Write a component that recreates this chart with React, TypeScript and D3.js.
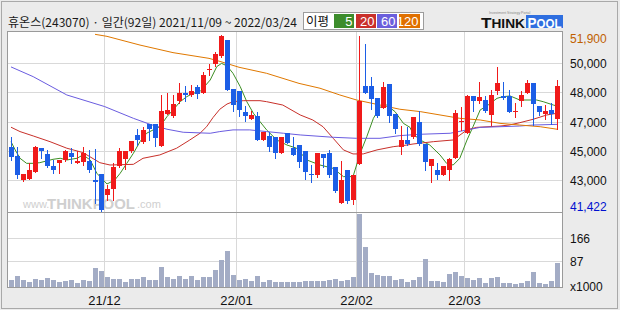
import React from "react";
import * as d3 from "d3";

// ---------- DATA ----------
const stockName = "휴온스(243070)";
const tradingDays = [
  "2021-11-09","2021-11-10","2021-11-11","2021-11-12","2021-11-15","2021-11-16","2021-11-17","2021-11-18","2021-11-19","2021-11-22",
  "2021-11-23","2021-11-24","2021-11-25","2021-11-26","2021-11-29","2021-11-30","2021-12-01","2021-12-02","2021-12-03","2021-12-06",
  "2021-12-07","2021-12-08","2021-12-09","2021-12-10","2021-12-13","2021-12-14","2021-12-15","2021-12-16","2021-12-17","2021-12-20",
  "2021-12-21","2021-12-22","2021-12-23","2021-12-24","2021-12-27","2021-12-28","2021-12-29","2021-12-30","2022-01-03","2022-01-04",
  "2022-01-05","2022-01-06","2022-01-07","2022-01-10","2022-01-11","2022-01-12","2022-01-13","2022-01-14","2022-01-17","2022-01-18",
  "2022-01-19","2022-01-20","2022-01-21","2022-01-24","2022-01-25","2022-01-26","2022-01-27","2022-01-28","2022-02-03","2022-02-04",
  "2022-02-07","2022-02-08","2022-02-09","2022-02-10","2022-02-11","2022-02-14","2022-02-15","2022-02-16","2022-02-17","2022-02-18",
  "2022-02-21","2022-02-22","2022-02-23","2022-02-24","2022-02-25","2022-02-28","2022-03-02","2022-03-03","2022-03-04","2022-03-07",
  "2022-03-08","2022-03-10","2022-03-11","2022-03-14","2022-03-15","2022-03-16","2022-03-17","2022-03-18","2022-03-21","2022-03-22",
  "2022-03-23","2022-03-24"
];

const openPrices = [
  45250,44700,43250,43350,43750,45200,44800,44100,44250,44450,
  44900,44300,44350,44400,43250,43600,42350,42750,44100,44500,
  45000,45950,45550,46600,46600,45300,47200,47050,47950,48450,
  48300,48800,48450,49800,50150,50650,51600,48700,48550,47300,
  46900,47100,45650,45900,45850,44900,46050,45200,45350,45000,
  43600,43550,44800,44900,44050,41900,43850,42050,44200,48850,
  48850,48150,47550,49000,47200,45250,45650,45800,46700,45400,
  44100,43850,43550,43850,44550,46700,46050,48250,48000,48050,
  47150,48550,48250,48250,47300,47950,48450,49050,47650,47200,
  47450,46900
];
const highPrices = [
  45800,45250,43650,44250,45300,45200,45050,44450,44450,45050,
  45150,45000,45250,45050,45100,43600,42950,44250,45150,45000,
  45600,46300,46450,46600,46600,48350,48450,48350,49050,48850,
  48900,48900,49700,50200,50900,51900,51600,48700,48550,47650,
  47350,47300,46100,46100,45850,45850,46050,45850,45350,45000,
  44150,44900,44800,45050,44050,44400,43850,43550,51850,51350,
  49400,48150,49100,49000,47200,46500,46400,47000,47350,45400,
  44500,44250,44100,44550,47450,47600,48350,48250,49100,48250,
  48600,50000,49100,48650,47850,48550,49250,49050,47650,47750,
  47850,49200
];
const lowPrices = [
  44450,43400,43200,43300,43750,44550,44050,43700,43700,44400,
  44250,44250,44150,43750,41900,41422,42100,42100,44050,43950,
  44950,45350,45500,45650,45300,45300,47200,47000,47850,47950,
  48250,48150,48450,49500,50050,50600,48600,47350,47100,46800,
  46900,45650,45650,45000,44600,44900,45450,44750,44050,43350,
  43150,43450,44050,43450,42550,41900,41900,41850,44200,48450,
  47500,47000,47550,46750,46050,44800,45350,45750,45350,43850,
  43150,43350,43550,43250,44550,46250,46050,47350,47850,47300,
  46550,48400,48100,47300,47000,47650,48450,46550,47150,46900,
  46600,46300
];
const closePrices = [
  44650,43550,43650,43850,45250,45000,44100,43850,44450,45000,
  44650,44400,44900,43850,43150,41500,42750,44050,45000,45000,
  45600,45650,46250,46300,45750,47350,47450,47800,48450,48300,
  48550,48400,49500,49850,50750,51850,48600,47750,47450,47050,
  47150,45650,46100,45250,44900,45850,45500,44750,44350,43750,
  43550,44900,44550,43550,42600,43250,42000,43550,47950,48450,
  48100,47050,48800,47100,46300,45650,45400,47000,45400,44350,
  44500,43550,44100,44500,47250,46800,48250,47950,48200,47350,
  48350,49050,48150,47300,47350,48350,49050,47800,47300,47400,
  47200,48850
];
// volume in thousands of shares
const volumes = [
  25.6,39,25.6,19,28,25.6,32,25.6,20,23,
  25.6,15.6,25.6,23,65.6,55.6,35.6,28,29,19,
  26.7,29,35.6,25.6,25.6,69,35.6,29,39,29,
  39,25.6,35.6,35.6,59,92,122,42,25.6,29,
  22,39,19,25.6,19,19,19,19,19,21,
  22,22,22,25.6,29,23,25.6,35.6,245,135.6,
  49,42,39,39,25.6,29,19,25.6,35.6,95.6,
  22,22,19,45.6,52,39,32,25.6,32,15.6,
  32,35.6,15.6,15.6,12,15.6,22,52,15.6,12,
  22,82
];

// moving averages: [day index, price]
const ma5Points: [number, number][] = [
  [0,45550],[0.7,45060],[1.5,44560],[2.6,44260],[3.7,44260],[4.8,44300],[7,44500],[8.2,44560],[9.3,44460],[11,44560],
  [12,44760],[13.2,44460],[14.3,43670],[16,43030],[17.3,43270],[18.2,43670],[19.3,44260],[20.4,44860],[21.5,45550],[22.6,46050],
  [23.7,46250],[24.8,46440],[26,47040],[27,47440],[28.2,47930],[29.3,48230],[30.4,48430],[31.5,48530],[33.2,49220],[34.3,50020],
  [35.1,50210],[36,50060],[37,49620],[38.2,48830],[39.3,47930],[40.4,47240],[41.5,46740],[42.6,46250],[44.3,45650],[46,45350],
  [47.6,45160],[49.3,44460],[51.5,44160],[53.7,43960],[55.4,43470],[57,43470],[58.2,44860],[59.3,45850],[60.4,46940],[61.5,47600],
  [62.6,47730],[64,47340],[65.4,46640],[66.5,46400],[67,46010],[68.2,45650],[69.8,45350],[71.5,44760],[72.6,44260],[73.7,44160],
  [74.8,44560],[76,45650],[77,46440],[78.2,47440],[79.3,47670],[81,48130],[82,48230],[83.2,48270],[84.8,48030],[86.5,48030],
  [87.6,48030],[88.7,47930],[90.4,47730],[91,47670]
];
const ma20Points: [number, number][] = [
  [0,46410],[1.5,46150],[3.7,45890],[6.5,45550],[9.3,45160],[12,44900],[14.8,44300],[16.5,44160],[20.4,44200],[22,44560],
  [24.8,44760],[27.6,45160],[29.8,45650],[31.5,46050],[32.6,46440],[33.7,47000],[34.8,47480],[36,47790],[37,47930],[38.7,47990],
  [41.5,47990],[42.6,47930],[45.3,47730],[48.2,47140],[50.3,46840],[52,46440],[53.7,45750],[55.4,45060],[57,44820],[58.7,44820],
  [61,45060],[63.7,45250],[66,45350],[67,45410],[70.4,45550],[73.7,45650],[76,46250],[77.6,46400],[81.5,46480],[83,46540],
  [84.8,46680],[87,46880],[89.3,47140],[91,47240]
];
const ma60Points: [number, number][] = [
  [0,50000],[3.7,49420],[9.3,48330],[15.6,47640],[20.4,46940],[23.2,46580],[26,46290],[28.7,46110],[33.2,46050],[34.8,46150],
  [37,46250],[39.8,46250],[42.6,46150],[45.4,46050],[48.2,45950],[53.7,45810],[57.6,45750],[61.5,45750],[64.8,45910],[68.2,45990],
  [73.2,46050],[76,46250],[78.2,46400],[81.5,46440],[84.8,46480],[87,46540],[91,46580]
];
const ma120Points: [number, number][] = [
  [14,51940],[16,51820],[21.5,51300],[27,50850],[33,50510],[35,50310],[38,49980],[42.6,49620],[48,49020],[51.5,48730],
  [54.8,48330],[57.6,48030],[61.5,47730],[64.8,47480],[68.2,47340],[71.5,47140],[74.8,46940],[78.2,46840],[81.5,46640],[84.8,46540],
  [88.2,46440],[91,46290]
];

const maLegendLabels = ["5", "20", "60", "120"];
const priceMax = 51900;
const priceMin = 41422;
const priceGridValues = [50230, 48490, 46750, 45000, 43270];
const volumeGridValues = [166, 87];
const monthStarts = ["2021-12-01", "2022-01-03", "2022-02-03", "2022-03-02"];
const monthLabels = ["21/12", "22/01", "22/02", "22/03"];

// ---------- STYLE ----------
const UP = "#f01a1a";
const DOWN = "#1c5ee6";
const MA_COLORS = ["#3d8f24", "#c8302a", "#6a5ce0", "#e07800"];
const LEGEND_COLORS = ["#3c8c2c", "#c9302b", "#6b5fdc", "#e07000"];
const GRID = "#d9d9d9";
const FRAME = "#9a9a9a";
const VOL = "#a3acc5";
const AXF = "'Liberation Sans', Arial, sans-serif";
const KRF = "'Noto Sans CJK KR', 'Noto Sans', sans-serif";

export default function App() {
  const W = 620, H = 310;
  const plotL = 7.5, plotR = 562.5, plotT = 31.5, sepY = 212.5, plotB = 287.5;
  const n = tradingDays.length;

  const x = d3.scaleLinear().domain([0, n - 1]).range([11, 557]);
  const yP = d3.scaleLinear().domain([priceMin, priceMax]).range([211, 35]);
  const yV = d3.scaleLinear().domain([0, 250]).range([plotB, 212.5]);
  const fmt = d3.format(",");

  const line = d3.line<[number, number]>().x(d => x(d[0])).y(d => yP(d[1]));
  const maSeries = [ma5Points, ma20Points, ma60Points, ma120Points];

  const fmtDate = (s: string) => s.replace(/-/g, "/");
  const header = `${stockName} · 일간(${n}일) ${fmtDate(tradingDays[0])} ~ ${fmtDate(tradingDays[n - 1])}`;

  const legendX = [334, 356, 377, 399];
  const legendW = [20, 20, 20, 21];

  return (
    <svg width={W} height={H} style={{ position: "absolute", left: 0, top: 0, display: "block" }}
      xmlns="http://www.w3.org/2000/svg">
      <defs>
        <clipPath id="pclip">
          <rect x={plotL + 0.5} y={plotT + 0.5} width={plotR - plotL - 1} height={sepY - plotT - 1} />
        </clipPath>
      </defs>
      <rect x={0} y={0} width={W} height={H} fill="#ebebeb" />
      <rect x={1.5} y={1.5} width={616} height={307} fill="none" stroke="#a9a9a9" shapeRendering="crispEdges" />

      {/* header */}
      <text x={8} y={27} fontSize={12} fontFamily={KRF} fill="#1a1a1a" textLength={289} lengthAdjust="spacingAndGlyphs">{header}</text>

      {/* legend */}
      <rect x={303.5} y={12.5} width={120} height={17} fill="#fff" stroke="#9c9c9c" shapeRendering="crispEdges" />
      <text x={306} y={26} fontSize={12.5} fontFamily={KRF} fill="#111">이평</text>
      {maLegendLabels.map((lab, k) => (
        <g key={lab}>
          <rect x={legendX[k]} y={14} width={legendW[k]} height={14} fill={LEGEND_COLORS[k]} />
          <text x={legendX[k] + legendW[k] - 1.5} y={26} fontSize={13} fontFamily={AXF} fill="#fff" textAnchor="end">{lab}</text>
        </g>
      ))}

      {/* logo */}
      <text x={489} y={13.5} fontSize={3.5} fontFamily={AXF} fill="#888">Investment Strategy Portal</text>
      <text x={481} y={28} fontSize={15} fontWeight={900} fontFamily={AXF} fill="#111" textLength={44} lengthAdjust="spacingAndGlyphs">T<tspan fontSize={12}>HINK</tspan></text>
      <rect x={526} y={15} width={37} height={13} fill="#2f6fe0" />
      <text x={544.5} y={27.5} fontSize={14} fontWeight={900} fontFamily={AXF} fill="#fff" textAnchor="middle" textLength={34} lengthAdjust="spacingAndGlyphs">P<tspan fontSize={12}>OOL</tspan></text>

      {/* plot background */}
      <rect x={plotL} y={plotT} width={plotR - plotL} height={plotB - plotT} fill="#fff" />

      {/* grid */}
      <g shapeRendering="crispEdges" stroke={GRID} strokeWidth={1}>
        {priceGridValues.map(v => {
          const yy = Math.round(yP(v)) + 0.5;
          return <line key={v} x1={plotL} x2={plotR} y1={yy} y2={yy} />;
        })}
        {volumeGridValues.map(v => {
          const yy = Math.round(yV(v)) + 0.5;
          return <line key={v} x1={plotL} x2={plotR} y1={yy} y2={yy} />;
        })}
        {monthStarts.map(d => {
          const xx = Math.round(x(tradingDays.indexOf(d)) - 3) + 0.5;
          return <line key={d} x1={xx} x2={xx} y1={plotT} y2={plotB} />;
        })}
      </g>

      {/* watermark */}
      <g fill="#c4c4c4" opacity={0.8}>
        <text x={23} y={208} fontSize={11} fontFamily={AXF}>www.</text>
        <text x={47} y={209} fontSize={15} fontWeight={900} fontFamily={AXF} textLength={88} lengthAdjust="spacingAndGlyphs">THINKPOOL</text>
        <text x={137} y={208} fontSize={11} fontFamily={AXF}>.com</text>
      </g>

      {/* moving averages */}
      <g clipPath="url(#pclip)">
        {maSeries.map((pts, k) => (
          <path key={k} d={line(pts) || ""} fill="none" stroke={MA_COLORS[k]} strokeWidth={1} />
        ))}
      </g>

      {/* candles */}
      <g shapeRendering="crispEdges" clipPath="url(#pclip)">
        {tradingDays.map((d, i) => {
          const o = openPrices[i], c = closePrices[i], h = highPrices[i], l = lowPrices[i];
          const up = c >= o;
          const col = up ? UP : DOWN;
          const cx = Math.round(x(i));
          const yTop = Math.round(yP(Math.max(o, c)));
          const yBot = Math.round(yP(Math.min(o, c)));
          const yh = Math.round(yP(h));
          const yl = Math.round(yP(l));
          return (
            <g key={d}>
              <rect x={cx} y={yh} width={1} height={Math.max(1, yl - yh + 1)} fill={col} />
              <rect x={cx - 2} y={yTop} width={5} height={Math.max(1, yBot - yTop)} fill={col} />
            </g>
          );
        })}
      </g>

      {/* volume */}
      <g shapeRendering="crispEdges">
        {volumes.map((v, i) => {
          const cx = Math.round(x(i));
          const yy = Math.round(yV(v));
          return <rect key={i} x={cx - 2} y={yy} width={5} height={Math.max(0, 287 - yy)} fill={VOL} />;
        })}
      </g>

      {/* frame */}
      <g shapeRendering="crispEdges" fill="none" stroke={FRAME}>
        <rect x={plotL} y={plotT} width={plotR - plotL} height={plotB - plotT} />
        <line x1={plotL} x2={plotR} y1={sepY} y2={sepY} />
      </g>

      {/* right axis labels */}
      <g fontFamily={AXF} fontSize={12}>
        <text x={570} y={Math.round(yP(priceMax)) + 8} fill="#c06000">{fmt(priceMax)}</text>
        {priceGridValues.map(v => (
          <text key={v} x={570} y={Math.round(yP(v)) + 5} fill="#111">{fmt(Math.round(v / 1000) * 1000)}</text>
        ))}
        <text x={570} y={Math.round(yP(priceMin)) + 0} fill="#0010d0">{fmt(priceMin)}</text>
        {volumeGridValues.map(v => (
          <text key={v} x={570} y={Math.round(yV(v)) + 5} fill="#111">{v}</text>
        ))}
        <text x={570} y={291} fill="#111">x1000</text>
      </g>

      {/* x labels */}
      <g fontFamily={AXF} fontSize={13} fill="#111" textAnchor="middle">
        {monthStarts.map((d, k) => (
          <text key={d} x={Math.round(x(tradingDays.indexOf(d)) - 3) + 0.5} y={305}>{monthLabels[k]}</text>
        ))}
      </g>
    </svg>
  );
}
